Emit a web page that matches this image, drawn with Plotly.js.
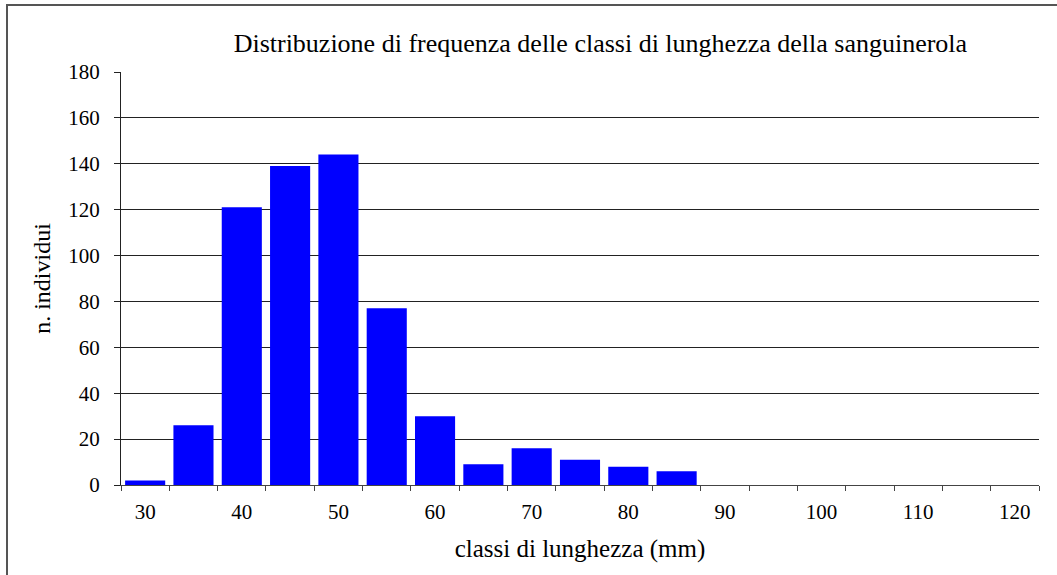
<!DOCTYPE html>
<html>
<head>
<meta charset="utf-8">
<script src="https://cdn.plot.ly/plotly-3.0.1.min.js"></script>
<style>
html,body{margin:0;padding:0;background:#fff;}
#wrap{position:relative;width:1057px;height:575px;overflow:hidden;}
#chart{position:absolute;left:0;top:0;width:1057px;height:575px;}
#frame{position:absolute;left:6px;top:4px;width:1100px;height:620px;border:2px solid #555;pointer-events:none;}
</style>
</head>
<body>
<div id="wrap"><div id="chart"></div><div id="frame"></div></div>
<script>
const classes = [30,35,40,45,50,55,60,65,70,75,80,85,90,95,100,105,110,115,120];
const counts  = [2,26,121,139,144,77,30,9,16,11,8,6,0,0,0,0,0,0,0];
const xTickLabels = [30,40,50,60,70,80,90,100,110,120];
const yTicks = [0,20,40,60,80,100,120,140,160,180];

const FONT = '"Liberation Serif", "DejaVu Serif", serif';

Plotly.newPlot('chart', [{
  type: 'bar',
  x: classes,
  y: counts,
  marker: {color: '#0000FF'},
  hoverinfo: 'x+y'
}], {
  width: 1057, height: 575,
  paper_bgcolor: 'rgba(0,0,0,0)',
  plot_bgcolor: '#fff',
  margin: {l: 121, r: 18, t: 72, b: 90},
  bargap: 0.17,
  showlegend: false,
  font: {family: FONT, color: '#000'},
  title: {
    text: 'Distribuzione di frequenza delle classi di lunghezza della sanguinerola',
    font: {family: FONT, size: 26, color: '#000'},
    x: 0.568, xanchor: 'center', y: 0.925, yanchor: 'middle'
  },
  xaxis: {
    range: [27.5, 122.5],
    tickmode: 'array',
    tickvals: xTickLabels,
    ticktext: xTickLabels.map(String),
    ticks: '',
    ticklabelstandoff: 8,
    tickfont: {family: FONT, size: 21, color: '#000'},
    showgrid: false,
    zeroline: false,
    showline: true, linecolor: '#444', linewidth: 1,
    minor: {tick0: 27.5, dtick: 5, ticks: 'outside', ticklen: 5, tickcolor: '#444', showgrid: false},
    title: {text: 'classi di lunghezza (mm)', font: {family: FONT, size: 25, color: '#000'}, standoff: 16},
    fixedrange: true
  },
  yaxis: {
    range: [0, 180],
    tickmode: 'array',
    tickvals: yTicks,
    ticks: 'outside', ticklen: 6, tickcolor: '#222',
    ticklabelstandoff: 10,
    tickfont: {family: FONT, size: 21, color: '#000'},
    showgrid: true, gridcolor: '#222', gridwidth: 1,
    zeroline: false,
    showline: true, linecolor: '#222', linewidth: 1,
    title: {text: 'n. individui', font: {family: FONT, size: 24, color: '#000'}, standoff: 10},
    fixedrange: true
  }
}, {displayModeBar: false, staticPlot: true});
</script>
</body>
</html>
